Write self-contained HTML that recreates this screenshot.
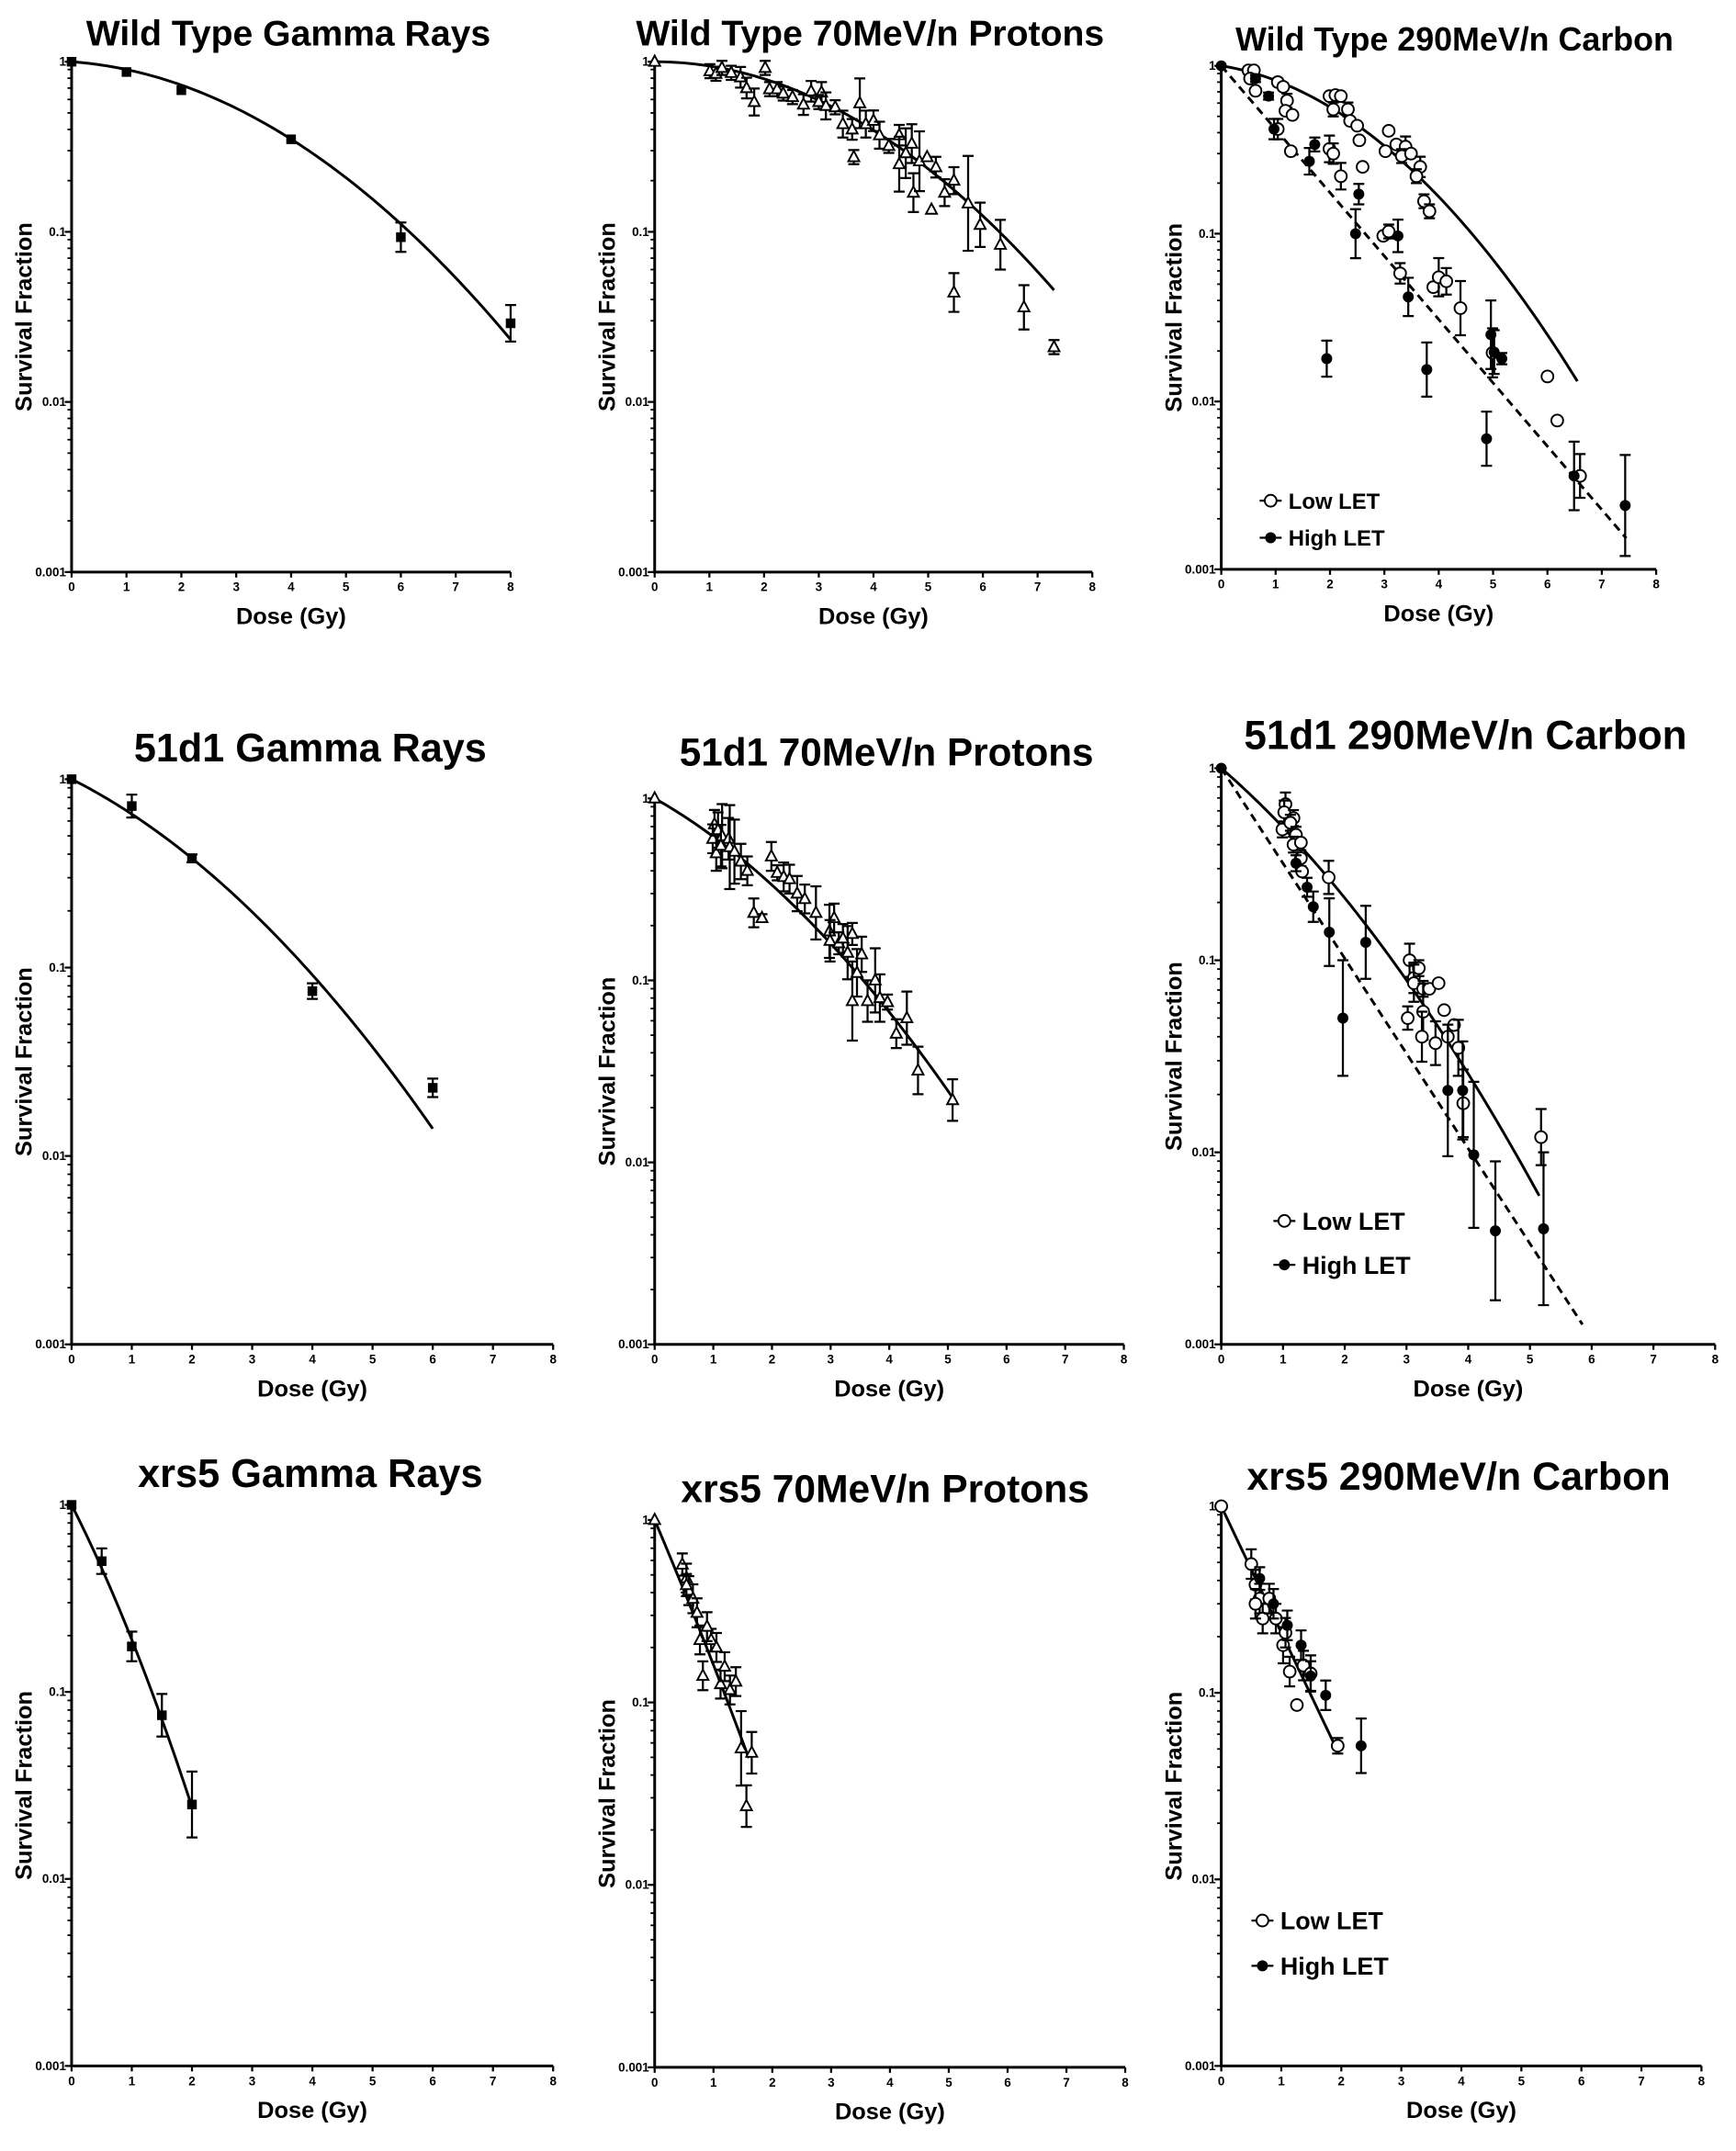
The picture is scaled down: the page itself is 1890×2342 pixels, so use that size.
<!DOCTYPE html>
<html><head><meta charset="utf-8">
<style>
html,body{margin:0;padding:0;background:#fff;}
svg{display:block;}
text{font-family:"Liberation Sans",Arial,sans-serif;font-weight:bold;fill:#000;}
</style></head>
<body>
<svg id="fig" width="1890" height="2342" viewBox="0 0 1265 1568" xmlns="http://www.w3.org/2000/svg"></svg>
<script>
// ---- data ----
const p1Dose=[0,1,2,4,6,8];
const p1SF=[1,0.87,0.68,0.35,0.093,0.029];
const p1Err=[1,1,1,1,1.22,1.28];

const p2Dose=[0,1.01,1.12,1.23,1.4,1.57,1.68,1.82,2.02,2.1,2.24,2.35,2.52,2.72,2.86,3.05,3.0,3.13,3.3,3.44,3.61,3.64,3.75,3.86,4.0,4.11,4.28,4.47,4.47,4.7,4.59,4.73,4.84,4.98,5.06,5.14,5.3,5.47,5.47,5.73,5.95,6.32,6.75,7.3];
const p2SF=[1,0.88,0.85,0.92,0.86,0.81,0.70,0.58,0.92,0.69,0.69,0.65,0.62,0.56,0.67,0.66,0.58,0.55,0.54,0.43,0.40,0.275,0.57,0.43,0.45,0.37,0.32,0.37,0.25,0.33,0.29,0.17,0.26,0.275,0.135,0.24,0.17,0.20,0.044,0.147,0.11,0.084,0.036,0.021];
const p2Err=[1,1.1,1.1,1.1,1.1,1.15,1.15,1.2,1.1,1.1,1.1,1.1,1.1,1.15,1.15,1.15,1.1,1.2,1.1,1.2,1.15,1.1,1.4,1.2,1.15,1.2,1.1,1.15,1.45,1.3,1.4,1.3,1.5,1,1,1.15,1.2,1.2,1.3,1.9,1.35,1.4,1.35,1.1];

const p3LowDose=[0.5,0.6,0.53,0.63,1.04,1.14,1.21,1.18,1.31,1.04,1.28,1.99,2.1,2.2,2.06,2.33,2.37,2.5,2.54,2.6,1.99,2.06,2.2,3.08,3.02,3.22,3.39,3.32,3.49,3.66,3.59,3.73,3.83,2.98,3.08,3.29,3.9,4.0,4.14,4.4,4.99,6.0,6.18,6.6];
const p3LowSF=[0.94,0.94,0.84,0.71,0.8,0.75,0.62,0.54,0.51,0.42,0.31,0.66,0.67,0.66,0.55,0.55,0.47,0.44,0.36,0.25,0.32,0.30,0.22,0.41,0.31,0.34,0.33,0.29,0.30,0.25,0.22,0.156,0.136,0.097,0.103,0.058,0.048,0.055,0.052,0.036,0.0195,0.0141,0.0077,0.0036];
const p3LowErr=[1.05,1,1,1,1.05,1.05,1.1,1,1,1.15,1,1,1,1,1.1,1.1,1,1,1,1,1.2,1.15,1.2,1,1,1.05,1.15,1.1,1.05,1.15,1.1,1.1,1.1,1.05,1.1,1.15,1,1.3,1.2,1.45,1.4,1,1,1.35];
const p3HighDose=[0,0.63,0.87,0.97,1.72,1.62,2.53,2.47,3.25,3.44,1.94,3.78,4.96,5.02,5.16,4.88,6.49,7.43];
const p3HighSF=[1,0.84,0.66,0.42,0.34,0.27,0.172,0.1,0.097,0.042,0.018,0.0155,0.025,0.0197,0.018,0.006,0.0036,0.0024];
const p3HighErr=[1,1.05,1.05,1.15,1.1,1.2,1.15,1.4,1.25,1.3,1.28,1.45,1.6,1.35,1.08,1.45,1.6,2];

const p4Dose=[0,1,2,4,6];
const p4SF=[1,0.72,0.38,0.075,0.023];
const p4Err=[1,1.15,1.05,1.1,1.12];

const p5Dose=[0,1.02,0.99,1.08,1.05,1.15,1.13,1.26,1.28,1.36,1.47,1.58,1.69,1.83,1.99,2.09,2.2,2.3,2.43,2.56,2.75,2.98,3.06,2.99,3.14,3.21,3.37,3.29,3.53,3.45,3.37,3.63,3.76,3.84,3.97,4.12,4.3,4.49,5.08];
const p5SF=[1,0.72,0.6,0.67,0.5,0.62,0.55,0.6,0.54,0.51,0.45,0.40,0.235,0.22,0.48,0.39,0.37,0.36,0.30,0.28,0.235,0.186,0.22,0.165,0.16,0.17,0.18,0.142,0.139,0.11,0.077,0.077,0.1,0.08,0.076,0.051,0.062,0.032,0.022];
const p5Err=[1,1.2,1.2,1.25,1.25,1.5,1.3,1.3,1.7,1.5,1.25,1.2,1.2,1.05,1.2,1.1,1.2,1.2,1.25,1.2,1.4,1.4,1.2,1.3,1.15,1.2,1.15,1.4,1.25,1.35,1.65,1.3,1.5,1.35,1.1,1.2,1.4,1.35,1.3];

const p6LowDose=[1.04,1.02,1.17,0.99,1.12,1.21,1.17,1.29,1.29,1.31,1.74,3.05,3.12,3.2,3.12,3.27,3.37,3.52,3.02,3.27,3.25,3.61,3.47,3.67,3.77,3.84,3.92,5.18];
const p6LowSF=[0.65,0.59,0.55,0.48,0.52,0.45,0.40,0.41,0.34,0.29,0.27,0.1,0.081,0.091,0.076,0.071,0.071,0.076,0.05,0.054,0.04,0.055,0.037,0.04,0.046,0.035,0.018,0.012];
const p6LowErr=[1.15,1.15,1.1,1.1,1.1,1.1,1.1,1,1.1,1,1.22,1.22,1.2,1.1,1.25,1.1,1,1,1.15,1.4,1.35,1,1.3,1,1,1.4,1.5,1.4];
const p6HighDose=[0,1.21,1.39,1.49,1.75,2.34,1.97,3.67,3.91,4.09,4.44,5.22];
const p6HighSF=[1,0.32,0.24,0.19,0.14,0.124,0.05,0.021,0.021,0.0097,0.0039,0.004];
const p6HighErr=[1,1.1,1.12,1.2,1.5,1.55,2,2.2,1.8,2.4,2.3,2.5];

const p7Dose=[0,0.5,1,1.5,2];
const p7SF=[1,0.5,0.175,0.075,0.025];
const p7Err=[1,1.17,1.2,1.3,1.5];

const p8Dose=[0,0.47,0.54,0.58,0.65,0.72,0.77,0.82,0.96,1.05,1.12,1.19,1.28,1.38,1.47,1.56,1.65,0.54,0.89];
const p8SF=[1,0.57,0.48,0.41,0.37,0.31,0.22,0.14,0.22,0.2,0.126,0.157,0.117,0.13,0.056,0.027,0.053,0.44,0.26];
const p8Err=[1,1.15,1.2,1.2,1.2,1.2,1.2,1.2,1.15,1.2,1.2,1.2,1.2,1.2,1.6,1.3,1.3,1.15,1.2];

const p9LowDose=[0,0.5,0.57,0.64,0.69,0.8,0.91,1.03,1.14,1.26,1.37,1.49,1.94,0.57,1.07];
const p9LowSF=[1,0.49,0.38,0.32,0.25,0.32,0.25,0.18,0.13,0.086,0.14,0.127,0.052,0.3,0.21];
const p9LowErr=[1,1.2,1.2,1.2,1.2,1.2,1.2,1.25,1.2,1,1.2,1.25,1.1,1.2,1.2];
const p9HighDose=[0.64,0.87,1.1,1.33,1.49,1.74,2.33];
const p9HighSF=[0.41,0.3,0.23,0.18,0.123,0.097,0.052];
const p9HighErr=[1.15,1.2,1.2,1.2,1.2,1.2,1.4];

// fit parameters: alpha, beta, max dose
const fitAlpha=[0.054,0,0.117,0.37,0.42,0.64,1.46,1.75,1.56];
const fitBeta=[0.052,0.058,0.083,0.057,0.064,0.069,0.2,0.08,0];
const fitMax=[8,7.3,6.55,6,5.1,5.15,2,1.6,1.9];
const dashAlpha=[0.87,1.14];
const dashMax=[7.45,5.85];

const xTicks=[0,1,2,3,4,5,6,7,8];
const yTickLabels=["1","0.1","0.01","0.001"];

// ---- drawing ----
const NS="http://www.w3.org/2000/svg";
const svg=document.getElementById('fig');
function el(tag,attrs,parent){const e=document.createElementNS(NS,tag);for(const k in attrs)e.setAttribute(k,attrs[k]);(parent||svg).appendChild(e);return e;}

const panels=[
 {title:"Wild Type Gamma Rays",x0:52,x8:372,y1:45,y3:417,tx:210,ty:33,fs:26.2},
 {title:"Wild Type 70MeV/n Protons",x0:477,x8:796,y1:45,y3:417,tx:634,ty:33,fs:26.2},
 {title:"Wild Type 290MeV/n Carbon",x0:890,x8:1207,y1:48,y3:415,tx:1060,ty:37,fs:24},
 {title:"51d1 Gamma Rays",x0:52,x8:403,y1:568,y3:980,tx:226,ty:555,fs:28.9},
 {title:"51d1 70MeV/n Protons",x0:477,x8:819,y1:582,y3:980,tx:646,ty:558,fs:28.3},
 {title:"51d1 290MeV/n Carbon",x0:890,x8:1250,y1:560,y3:980,tx:1068,ty:546,fs:29.5},
 {title:"xrs5 Gamma Rays",x0:52,x8:403,y1:1097,y3:1506,tx:226,ty:1084,fs:29},
 {title:"xrs5 70MeV/n Protons",x0:477,x8:820,y1:1108,y3:1507,tx:645,ty:1095,fs:28.5},
 {title:"xrs5 290MeV/n Carbon",x0:890,x8:1240,y1:1098,y3:1506,tx:1063,ty:1086,fs:28.8}
];

function drawAxes(p,i){
  const g=el('g',{});
  
  
  p.g=g;
  p.X=d=>p.x0+(p.x8-p.x0)*d/8;
  p.Y=s=>p.y1+(p.y3-p.y1)*(-Math.log10(s))/3;
  const t=el('text',{x:p.tx,y:p.ty,'text-anchor':'middle','font-size':p.fs},g);
  
  
  t.textContent=p.title;
  const ax=el('path',{d:`M${p.x0},${p.y1-2}V${p.y3}H${p.x8}`,stroke:'#000','stroke-width':2,fill:'none'},g);
  
  
  xTicks.forEach(d=>{
    const x=p.X(d);
    el('line',{x1:x,y1:p.y3,x2:x,y2:p.y3+4,stroke:'#000','stroke-width':1.5},g);
    const tl=el('text',{x:x,y:p.y3+14,'text-anchor':'middle','font-size':9},g);
    
    
    tl.textContent=d;
  });
  yTickLabels.forEach((lab,k)=>{
    const y=p.Y(Math.pow(10,-k));
    el('line',{x1:p.x0-5,y1:y,x2:p.x0,y2:y,stroke:'#000','stroke-width':1.5},g);
    const tl=el('text',{x:p.x0-4,y:y+3,'text-anchor':'end','font-size':9},g);
    
    
    tl.textContent=lab;
    if(k<3){for(let m=2;m<=9;m++){const ym=p.Y(m*Math.pow(10,-k-1));el('line',{x1:p.x0-3,y1:ym,x2:p.x0,y2:ym,stroke:'#000','stroke-width':1.2},g);}}
  });
  const yc=(p.y1+p.y3)/2;
  const yt=el('text',{x:p.x0-29,y:yc,'text-anchor':'middle','font-size':17,transform:`rotate(-90 ${p.x0-29} ${yc})`},g);
  
  
  yt.textContent="Survival Fraction";
  const xt=el('text',{x:(p.x0+p.x8)/2,y:p.y3+38,'text-anchor':'middle','font-size':17},g);
  
  
  xt.textContent="Dose (Gy)";
}

function drawFit(p,a,b,max,dash,name){
  let d='';
  for(let k=0;k<=100;k++){const D=max*k/100;const s=Math.exp(-a*D-b*D*D);d+=(k?'L':'M')+p.X(D).toFixed(2)+','+p.Y(s).toFixed(2);}
  const path=el('path',{d:d,stroke:'#000','stroke-width':2,fill:'none','stroke-dasharray':dash?'6,4':'none'},p.g);
  
  
}

function drawPoints(p,dose,sf,err,shape,name){
  const g=el('g',{},p.g);
  
  
  dose.forEach((d,i)=>{
    const x=p.X(d),y=p.Y(sf[i]);
    if(err[i]>1){
      const yt=p.Y(sf[i]*err[i]),yb=p.Y(sf[i]/err[i]);
      el('path',{d:`M${x},${yt}V${yb}M${x-4},${yt}H${x+4}M${x-4},${yb}H${x+4}`,stroke:'#000','stroke-width':1.5,fill:'none'},g);
    }
    let m;
    if(shape==='square') m=el('rect',{x:x-3.5,y:y-3.5,width:7,height:7,fill:'#000'},g);
    else if(shape==='tri') m=el('path',{d:`M${x},${y-4.5}L${x+4},${y+3}L${x-4},${y+3}Z`,fill:'#fff',stroke:'#000','stroke-width':1.3},g);
    else if(shape==='open') m=el('circle',{cx:x,cy:y,r:4.3,fill:'#fff',stroke:'#000','stroke-width':1.3},g);
    else m=el('circle',{cx:x,cy:y,r:4,fill:'#000'},g);
    
    
  });
}

function drawLegend(p,x,y1,y2,fs){
  const g=el('g',{},p.g);
  
  
  el('line',{x1:x-8,y1:y1,x2:x+8,y2:y1,stroke:'#000','stroke-width':1.5},g);
  el('circle',{cx:x,cy:y1,r:4.3,fill:'#fff',stroke:'#000','stroke-width':1.3},g);
  const t1=el('text',{x:x+13,y:y1+fs*0.36,'font-size':fs},g);
  
  
  t1.textContent="Low LET";
  el('line',{x1:x-8,y1:y2,x2:x+8,y2:y2,stroke:'#000','stroke-width':1.5},g);
  el('circle',{cx:x,cy:y2,r:4,fill:'#000'},g);
  const t2=el('text',{x:x+13,y:y2+fs*0.36,'font-size':fs},g);
  
  
  t2.textContent="High LET";
}

panels.forEach((p,i)=>drawAxes(p,i));
panels.forEach((p,i)=>drawFit(p,fitAlpha[i],fitBeta[i],fitMax[i],false,'fit-curve'));
drawFit(panels[2],dashAlpha[0],0,dashMax[0],true,'high-let-fit');
drawFit(panels[5],dashAlpha[1],0,dashMax[1],true,'high-let-fit');

drawPoints(panels[0],p1Dose,p1SF,p1Err,'square','series-gamma');
drawPoints(panels[1],p2Dose,p2SF,p2Err,'tri','series-protons');
drawPoints(panels[2],p3LowDose,p3LowSF,p3LowErr,'open','series-low-let');
drawPoints(panels[2],p3HighDose,p3HighSF,p3HighErr,'filled','series-high-let');
drawPoints(panels[3],p4Dose,p4SF,p4Err,'square','series-gamma');
drawPoints(panels[4],p5Dose,p5SF,p5Err,'tri','series-protons');
drawPoints(panels[5],p6LowDose,p6LowSF,p6LowErr,'open','series-low-let');
drawPoints(panels[5],p6HighDose,p6HighSF,p6HighErr,'filled','series-high-let');
drawPoints(panels[6],p7Dose,p7SF,p7Err,'square','series-gamma');
drawPoints(panels[7],p8Dose,p8SF,p8Err,'tri','series-protons');
drawPoints(panels[8],p9LowDose,p9LowSF,p9LowErr,'open','series-low-let');
drawPoints(panels[8],p9HighDose,p9HighSF,p9HighErr,'filled','series-high-let');
drawLegend(panels[2],926,365,392,16);
drawLegend(panels[5],936,890,922,18);
drawLegend(panels[8],920,1400,1433,18);
</script>
</body></html>
